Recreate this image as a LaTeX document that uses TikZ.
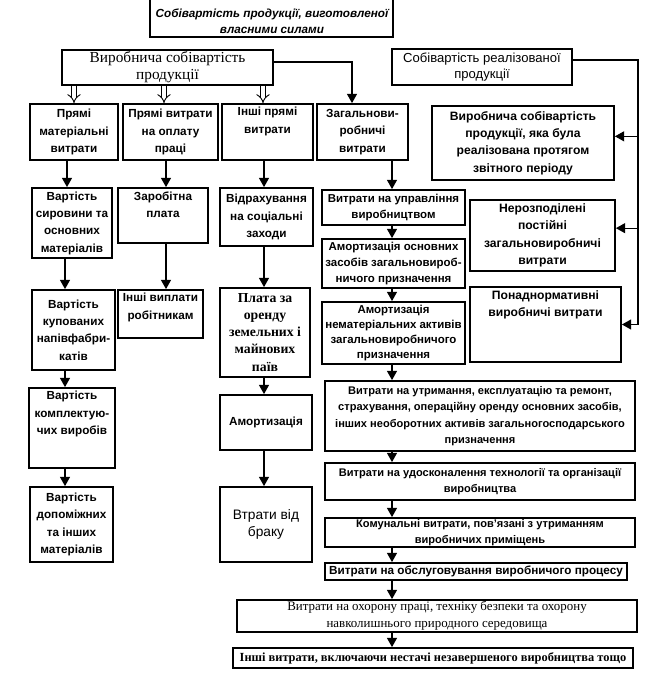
\documentclass[tikz,border=0pt]{standalone}
\usepackage{fontspec}
\setmainfont{Liberation Serif}
\setsansfont{Liberation Sans}
\usetikzlibrary{arrows.meta,calc}
\newcommand\Bx[6][]{\node[bx,#1,minimum width={(#5-#3)*0.75pt},minimum height={(#6-#4)*0.75pt}] (#2) at ({(#3+#5)/2},{(#4+#6)/2})}
\begin{document}
\begin{tikzpicture}[x=0.75pt,y=-0.75pt,
  bx/.style={draw, line width=1.3pt, inner sep=0pt, align=center},
  tx/.style={inner sep=0pt, align=center},
  fA/.style={font=\sffamily\bfseries\fontsize{8.8}{13}\selectfont},
  fB/.style={font=\sffamily\bfseries\fontsize{8.3}{12.4}\selectfont},
  fD/.style={font=\sffamily\bfseries\fontsize{8.6}{12}\selectfont},
  fC/.style={font=\sffamily\bfseries\fontsize{9.1}{13}\selectfont},
  arr/.style={line width=1pt, -{Triangle[length=7pt,width=7.5pt]}},
  hol/.style={double, double distance=2.8pt, line width=0.7pt, -{Implies}},
]
\path[fill=white] (0,0) rectangle (664,677);
\useasboundingbox (0,0) rectangle (664,677);
% column coordinates
\coordinate (h1) at (74,0);
\coordinate (h2) at (164,0);
\coordinate (h3) at (263,0);
\coordinate (k1) at (67,0);
\coordinate (k1b) at (65,0);
\coordinate (k2) at (166,0);
\coordinate (k3) at (264,0);
\coordinate (k4) at (392,0);
\coordinate (k5) at (352,0);
\coordinate (rt) at (638,0);

% title
\Bx[line width=0.8pt]{T}{150}{-6}{393}{37} {};
\node[tx, font=\sffamily\bfseries\itshape\fontsize{8.8}{12}\selectfont] (Tt) at (272,21) {Собівартість продукції, виготовленої\\власними силами};

% top level
\Bx[font=\rmfamily\fontsize{11.5}{12.5}\selectfont]{vs}{62}{50}{273}{85} {Виробнича собівартість\\продукції};
\Bx[line width=1pt, font=\sffamily\fontsize{9.8}{11.5}\selectfont]{sr}{392}{49}{572}{85} {Собівартість реалізованої\\продукції};

% level 2
\Bx[fA]{pmv}{30}{104}{118}{160} {Прямі\\матеріальні\\витрати};
\Bx[fA]{pvo}{123}{104}{218}{160} {Прямі витрати\\на оплату\\праці};
\Bx{ipv}{222}{104}{313}{160} {};
\node[tx, fA, anchor=north] (ipvt) at ([yshift=-3pt]ipv.north) {Інші прямі\\витрати};
\Bx[fA]{zv}{317}{104}{408}{160} {Загальнови-\\робничі\\витрати};

% level 3
\Bx[fA]{vsm}{32}{188}{112}{258} {Вартість\\сировини та\\основних\\матеріалів};
\Bx{zp}{118}{188}{208}{243} {};
\node[tx, fA, anchor=north] (zpt) at ([yshift=-3pt]zp.north) {Заробітна\\плата};
\Bx[fA]{vsz}{220}{188}{313}{246} {Відрахування\\на соціальні\\заходи};
\Bx[fD]{vu}{322}{190}{465}{225} {Витрати на управління\\виробництвом};

% level 4
\Bx[fA]{vkn}{32}{290}{115}{370} {Вартість\\купованих\\напівфабри-\\катів};
\Bx{ivr}{118}{290}{203}{338} {};
\node[tx, fA, anchor=north] (ivrt) at ([yshift=-3pt]ivr.north) {Інші виплати\\робітникам};
\Bx[font=\rmfamily\bfseries\fontsize{10.3}{12.8}\selectfont]{pzo}{220}{288}{310}{377} {Плата за\\оренду\\земельних і\\майнових\\паїв};
\Bx[fD]{aos}{322}{239}{465}{288} {Амортизація основних\\засобів загальновироб-\\ничого призначення};
\Bx[fD, font=\sffamily\bfseries\fontsize{8.6}{11.4}\selectfont]{anm}{322}{302}{465}{364} {Амортизація\\нематеріальних активів\\загальновиробничого\\призначення};

% right column
\Bx[fC]{vsr}{432}{106}{614}{180} {Виробнича собівартість\\продукції, яка була\\реалізована протягом\\звітного періоду};
\Bx[fC]{nzv}{470}{200}{615}{271} {Нерозподілені\\постійні\\загальновиробничі\\витрати};
\Bx{pnv}{470}{287}{621}{362} {};
\node[tx, fC, anchor=north] (pnvt) at ([yshift=-3pt]pnv.north) {Понаднормативні\\виробничі витрати};

% lower left
\Bx{vkv}{29}{388}{115}{468} {};
\node[tx, fA, anchor=north] (vkvt) at ([yshift=-3pt]vkv.north) {Вартість\\комплектую-\\чих виробів};
\Bx[fA]{vdm}{30}{487}{113}{562} {Вартість\\допоміжних\\та інших\\матеріалів};
\Bx[fA]{amz}{220}{395}{312}{450} {Амортизація};
\Bx[font=\sffamily\fontsize{10.3}{13}\selectfont]{vvb}{220}{487}{312}{562} {Втрати від\\браку};

% wide boxes
\Bx[fB]{vur}{325}{381}{635}{451} {Витрати на утримання, експлуатацію та ремонт,\\страхування, операційну оренду основних засобів,\\інших необоротних активів загальногосподарського\\призначення};
\Bx[fB]{vut}{325}{463}{635}{500} {Витрати на удосконалення технології та організації\\виробництва};
\Bx[fB]{kv}{325}{518}{635}{547} {Комунальні витрати, пов'язані з утриманням\\виробничих приміщень};
\Bx[fB, font=\sffamily\bfseries\fontsize{8.8}{12}\selectfont]{vop}{325}{563}{627}{580} {Витрати на обслуговування виробничого процесу};
\Bx[font=\rmfamily\fontsize{9.7}{12.5}\selectfont]{voh}{237}{600}{637}{632} {Витрати на охорону праці, техніку безпеки та охорону\\навколишнього природного середовища};
\Bx[font=\rmfamily\bfseries\fontsize{9.3}{12}\selectfont]{iv}{233}{648}{633}{668} {Інші витрати, включаючи нестачі незавершеного виробництва тощо};

% hollow arrows
\draw[hol] (vs.south -| h1) -- (pmv.north -| h1);
\draw[hol] (vs.south -| h2) -- (pvo.north -| h2);
\draw[hol] (vs.south -| h3) -- (ipv.north -| h3);
% to general production costs
\draw[arr] ([yshift=4pt]vs.east) -| (zv.north -| k5);

% column arrows
\draw[arr] (pmv.south -| k1) -- (vsm.north -| k1);
\draw[arr] (vsm.south -| k1b) -- (vkn.north -| k1b);
\draw[arr] (vkn.south -| k1b) -- (vkv.north -| k1b);
\draw[arr] (vkv.south -| k1b) -- (vdm.north -| k1b);
\draw[arr] (pvo.south -| k2) -- (zp.north -| k2);
\draw[arr] (zp.south -| k2) -- (ivr.north -| k2);
\draw[arr] (ipv.south -| k3) -- (vsz.north -| k3);
\draw[arr] (vsz.south -| k3) -- (pzo.north -| k3);
\draw[arr] (pzo.south -| k3) -- (amz.north -| k3);
\draw[arr] (amz.south -| k3) -- (vvb.north -| k3);
\draw[arr] (zv.south -| k4) -- (vu.north -| k4);
\draw[arr] (vu.south -| k4) -- (aos.north -| k4);
\draw[arr] (aos.south -| k4) -- (anm.north -| k4);
\draw[arr] (anm.south -| k4) -- (vur.north -| k4);
\draw[arr] (vur.south -| k4) -- (vut.north -| k4);
\draw[arr] (vut.south -| k4) -- (kv.north -| k4);
\draw[arr] (kv.south -| k4) -- (vop.north -| k4);
\draw[arr] (vop.south -| k4) -- (voh.north -| k4);
\draw[arr] (voh.south -| k4) -- (iv.north -| k4);

% right bracket
\draw[arr] ([yshift=5.25pt]sr.east) -| (rt |- pnv.east) -- (pnv.east);
\draw[arr] ([yshift=5pt]vsr.east -| rt) -- ([yshift=5pt]vsr.east);
\draw[arr] ([yshift=5.5pt]nzv.east -| rt) -- ([yshift=5.5pt]nzv.east);
\end{tikzpicture}
\end{document}
